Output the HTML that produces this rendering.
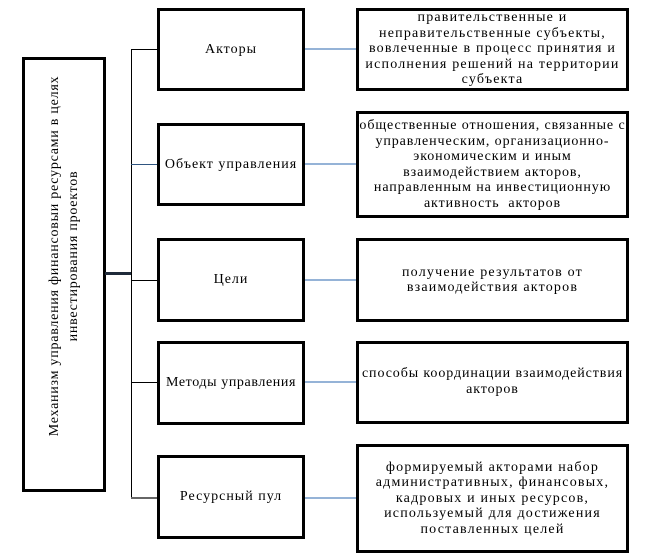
<!DOCTYPE html>
<html><head><meta charset="utf-8"><style>
body{margin:0;background:#fff;width:648px;height:557px;position:relative;overflow:hidden;font-family:"Liberation Serif",serif;color:#000}
.b{position:absolute;border:3px solid #000;box-sizing:border-box;display:flex;align-items:center;justify-content:center;text-align:center;font-size:14px;line-height:15.5px;background:#fff;white-space:nowrap}
.m{letter-spacing:1px}
.r{letter-spacing:1.2px}
.l{position:absolute;background:#000}
.c{position:absolute;height:2px;background:#95b3d7}
.rot{position:absolute;left:64px;top:256px;transform:translate(-50%,-50%) rotate(-90deg);width:420px;text-align:center;font-size:14px;line-height:19px;white-space:nowrap;letter-spacing:0.75px}
</style></head><body>
<div class="b" style="left:22px;top:57px;width:84px;height:435px"></div>
<div class="rot">Механизм управления финансовыи ресурсами в целях<br>инвестирования проектов</div>
<div class="l" style="left:105px;top:272px;width:27px;height:3px;background:#1f2a3a"></div>
<div class="l" style="left:131px;top:49px;width:1px;height:449px"></div>
<div class="l" style="left:131px;top:49px;width:27px;height:1px"></div>
<div class="l" style="left:131px;top:164px;width:27px;height:1px;background:#2f5580"></div>
<div class="l" style="left:131px;top:280px;width:27px;height:1px"></div>
<div class="l" style="left:131px;top:382px;width:27px;height:1px"></div>
<div class="l" style="left:131px;top:497px;width:27px;height:2px;background:#666"></div>

<div class="b m" style="left:157px;top:8px;width:148px;height:83px">Акторы</div>
<div class="b m" style="left:157px;top:123px;width:148px;height:83px">Объект управления</div>
<div class="b m" style="left:157px;top:238px;width:148px;height:84px">Цели</div>
<div class="b m" style="left:157px;top:341px;width:148px;height:84px;letter-spacing:0.6px">Методы управления</div>
<div class="b m" style="left:157px;top:455px;width:148px;height:84px">Ресурсный пул</div>

<div class="c" style="left:305px;top:48px;width:52px"></div>
<div class="c" style="left:305px;top:163px;width:52px"></div>
<div class="c" style="left:305px;top:279px;width:52px"></div>
<div class="c" style="left:305px;top:381px;width:52px"></div>
<div class="c" style="left:305px;top:497px;width:52px"></div>

<div class="b r" style="left:356px;top:8px;width:273px;height:83px;align-items:flex-start"><div style="margin-top:-1px">правительственные и<br>неправительственные субъекты,<br>вовлеченные в процесс принятия и<br>исполнения решений на территории<br>субъекта</div></div>
<div class="b r" style="left:356px;top:111px;width:273px;height:107px;letter-spacing:0.9px"><div>общественные отношения, связанные с<br>управленческим, организационно-<br>экономическим и иным<br>взаимодействием акторов,<br>направленным на инвестиционную<br>активность&nbsp; акторов</div></div>
<div class="b r" style="left:356px;top:238px;width:273px;height:84px"><div>получение результатов от<br>взаимодействия акторов</div></div>
<div class="b r" style="left:356px;top:341px;width:273px;height:83px;align-items:flex-start;letter-spacing:0.9px"><div style="margin-top:22px">способы координации взаимодействия<br>акторов</div></div>
<div class="b r" style="left:356px;top:444px;width:273px;height:109px"><div>формируемый акторами набор<br>административных, финансовых,<br>кадровых и иных ресурсов,<br>используемый для достижения<br>поставленных целей</div></div>
</body></html>
